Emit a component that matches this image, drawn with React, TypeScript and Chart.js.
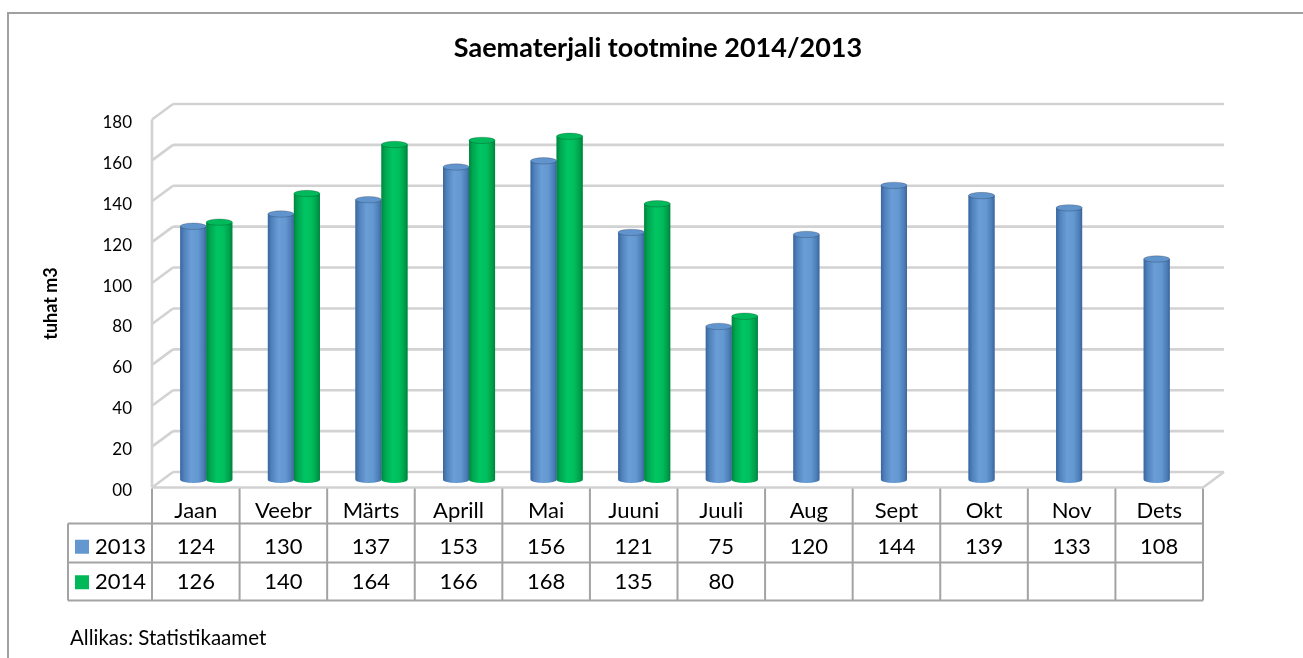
import React, { useEffect, useRef } from "react";
import { Chart, registerables } from "chart.js";

Chart.register(...registerables);

// ---- data ----
const months = ["Jaan", "Veebr", "Märts", "Aprill", "Mai", "Juuni", "Juuli", "Aug", "Sept", "Okt", "Nov", "Dets"];
const values2013: (number | null)[] = [124, 130, 137, 153, 156, 121, 75, 120, 144, 139, 133, 108];
const values2014: (number | null)[] = [126, 140, 164, 166, 168, 135, 80, null, null, null, null, null];
const seriesNames = ["2013", "2014"];
const yTickLabels = ["00", "20", "40", "60", "80", "100", "120", "140", "160", "180"];
const titleText = "Saematerjali tootmine 2014/2013";
const yAxisTitle = "tuhat m3";
const sourceText = "Allikas: Statistikaamet";

// ---- style ----
const FONT = 'Lato, "Open Sans", "DejaVu Sans", sans-serif';
const DX = 21;
const DY = -15.5;
const EH = 3.2;
const GRID = "#D2D2D2";
const TABLE_LINE = "#A3A3A3";
const ROW_HEIGHTS = [36, 39, 38];
const HEADER_W = 84;
const TABLE_FONT = 22;
const TABLE_LH = 35.5;
const TABLE_PAD = 6;

const palettes = [
  {
    solid: "#5A8DC8",
    legend: "#6297D0",
    top: "#6194CD",
    body: [
      [0, "#3A669B"],
      [0.14, "#4F81BC"],
      [0.42, "#6B9DD6"],
      [0.68, "#6398D1"],
      [0.9, "#4B7CB6"],
      [1, "#3A6598"],
    ],
  },
  {
    solid: "#00B455",
    legend: "#00B858",
    top: "#00B95A",
    body: [
      [0, "#00853F"],
      [0.14, "#00A650"],
      [0.42, "#00C563"],
      [0.68, "#00BE5D"],
      [0.9, "#009D4B"],
      [1, "#00803C"],
    ],
  },
];

const fmt = (v: number | null) => (v == null ? "" : String(v));

const excel3d = {
  id: "excel3d",
  beforeDraw(chart: any) {
    const { ctx, chartArea: a } = chart;
    const y = chart.scales.y;
    ctx.save();
    ctx.strokeStyle = GRID;
    ctx.lineWidth = 2.6;
    const line = (x1: number, y1: number, x2: number, y2: number) => {
      ctx.beginPath();
      ctx.moveTo(x1, y1);
      ctx.lineTo(x2, y2);
      ctx.stroke();
    };
    y.ticks.forEach((t: any) => {
      const py = y.getPixelForValue(t.value);
      line(a.left, py, a.left + DX, py + DY);
      line(a.left + DX, py + DY, a.right + DX, py + DY);
    });
    line(a.right, a.bottom, a.right + DX, a.bottom + DY);
    line(a.left, a.bottom, a.right, a.bottom);
    line(a.left, a.top, a.left, a.bottom);
    ctx.restore();
  },
  beforeDatasetsDraw(chart: any) {
    chart.ctx.save();
    chart.ctx.translate(DX / 2, DY / 2);
  },
  afterDatasetsDraw(chart: any) {
    const ctx = chart.ctx;
    chart.data.datasets.forEach((ds: any, di: number) => {
      const meta = chart.getDatasetMeta(di);
      const pal = palettes[di];
      meta.data.forEach((el: any, i: number) => {
        if (ds.data[i] == null) return;
        const { x, y, width, base } = el.getProps(["x", "y", "width", "base"], true);
        const l = x - width / 2;
        const r = x + width / 2;
        const rx = width / 2;
        const g = ctx.createLinearGradient(l, 0, r, 0);
        pal.body.forEach(([o, c]: any) => g.addColorStop(o, c));
        ctx.fillStyle = g;
        ctx.beginPath();
        ctx.moveTo(l, y);
        ctx.lineTo(l, base);
        ctx.ellipse(x, base, rx, EH, 0, Math.PI, 0, true);
        ctx.lineTo(r, y);
        ctx.closePath();
        ctx.fill();
        ctx.beginPath();
        ctx.ellipse(x, y, rx, EH, 0, 0, Math.PI * 2);
        ctx.fillStyle = pal.top;
        ctx.fill();
        ctx.strokeStyle = "rgba(0,0,0,0.22)";
        ctx.lineWidth = 0.9;
        ctx.stroke();
      });
    });
    ctx.restore();
  },
  afterDraw(chart: any) {
    const { ctx, chartArea: a } = chart;
    const n = months.length;
    const colW = (a.right - a.left) / n;
    const r0 = a.bottom;
    const r1 = r0 + ROW_HEIGHTS[0];
    const r2 = r1 + ROW_HEIGHTS[1];
    const r3 = r2 + ROW_HEIGHTS[2];
    const hl = a.left - HEADER_W;
    ctx.save();
    ctx.strokeStyle = TABLE_LINE;
    ctx.lineWidth = 2;
    const line = (x1: number, y1: number, x2: number, y2: number) => {
      ctx.beginPath();
      ctx.moveTo(x1, y1);
      ctx.lineTo(x2, y2);
      ctx.stroke();
    };
    for (let i = 0; i <= n; i++) {
      const x = a.left + i * colW;
      line(x, r0 + 1, x, r3);
    }
    [r1, r2, r3].forEach((ry) => line(hl, ry, a.right, ry));
    line(hl, r1, hl, r3);

    // row headers
    const xs = chart.scales.x;
    ctx.font = `${TABLE_FONT}px ${FONT}`;
    ctx.textBaseline = "middle";
    ctx.textAlign = "left";
    seriesNames.forEach((name, k) => {
      const cy = xs.top + TABLE_PAD + TABLE_LH * (k + 1.5);
      ctx.fillStyle = palettes[k].legend;
      ctx.fillRect(hl + 7, cy - 7, 14, 14);
      ctx.fillStyle = "#000";
      ctx.fillText(name, hl + 27, cy);
    });

    // source
    ctx.font = `20.5px ${FONT}`;
    ctx.fillStyle = "#000";
    ctx.fillText(sourceText, 70, 638);
    ctx.restore();
  },
};

export default function App() {
  const ref = useRef<HTMLCanvasElement | null>(null);

  useEffect(() => {
    if (!ref.current) return;
    const chart = new Chart(ref.current, {
      type: "bar",
      data: {
        labels: months,
        datasets: [
          {
            label: seriesNames[0],
            data: values2013,
            backgroundColor: palettes[0].solid,
            borderWidth: 0,
            categoryPercentage: 0.594,
            barPercentage: 1,
          },
          {
            label: seriesNames[1],
            data: values2014,
            backgroundColor: palettes[1].solid,
            borderWidth: 0,
            categoryPercentage: 0.594,
            barPercentage: 1,
          },
        ],
      },
      options: {
        responsive: false,
        animation: false,
        devicePixelRatio: 1,
        layout: { padding: { left: 13, right: 0, top: 0, bottom: 0 } },
        plugins: {
          legend: { display: false },
          tooltip: { enabled: false },
          title: {
            display: true,
            text: titleText,
            color: "#000",
            font: { family: FONT, size: 27, weight: "bold", lineHeight: 1.2 },
            padding: { top: 32, bottom: 55.1 },
          },
        },
        scales: {
          x: {
            grid: { display: false, drawTicks: false },
            border: { display: false },
            ticks: {
              autoSkip: false,
              maxRotation: 0,
              minRotation: 0,
              padding: TABLE_PAD,
              color: "#000",
              font: { family: FONT, size: TABLE_FONT, lineHeight: `${TABLE_LH}px` },
              callback: (_v: any, i: number) => [months[i], fmt(values2013[i]), fmt(values2014[i])],
            },
            afterFit: (s: any) => {
              s.height = 658 - 487.5;
            },
          },
          y: {
            min: 0,
            max: 180,
            grid: { display: false, drawTicks: false },
            border: { display: false },
            ticks: {
              stepSize: 20,
              padding: 20,
              labelOffset: 3,
              color: "#000",
              font: { family: FONT, size: 17 },
              callback: (_v: any, i: number) => yTickLabels[i],
            },
            title: {
              display: true,
              text: yAxisTitle,
              color: "#000",
              font: { family: FONT, size: 18, weight: "bold", lineHeight: 1.2 },
              padding: { top: 27, bottom: 0 },
            },
            afterFit: (s: any) => {
              s.width = 152 - 13;
            },
          },
          yR: {
            type: "linear",
            position: "right",
            display: true,
            grid: { display: false, drawTicks: false },
            border: { display: false },
            ticks: { display: false },
            afterFit: (s: any) => {
              s.width = 100;
            },
          },
        },
      },
      plugins: [excel3d],
    });
    return () => chart.destroy();
  }, []);

  return (
    <div style={{ position: "fixed", left: 0, top: 0, width: 1303, height: 658, overflow: "hidden", background: "#fff" }}>
      <div
        style={{
          position: "absolute",
          left: 7,
          top: 12,
          width: 1400,
          height: 800,
          borderLeft: "2px solid #A0A0A0",
          borderTop: "2px solid #A0A0A0",
        }}
      />
      <canvas ref={ref} width={1303} height={658} style={{ position: "absolute", left: 0, top: 0, display: "block" }} />
    </div>
  );
}
